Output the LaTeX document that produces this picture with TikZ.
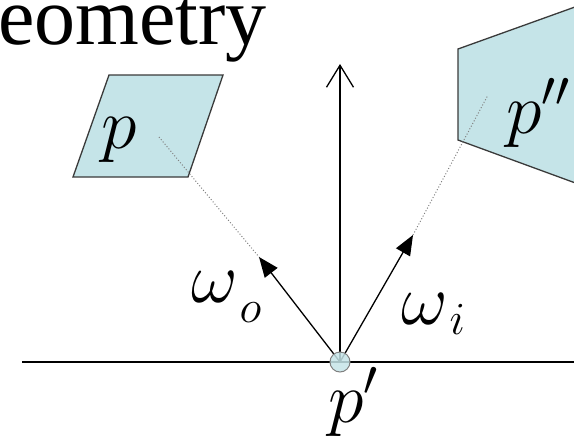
\RequirePackage{fix-cm}
\documentclass[tikz,border=0pt]{standalone}
\usepackage{fontspec}
\setmainfont{Liberation Serif}
\usetikzlibrary{arrows.meta}
\definecolor{panel}{HTML}{C5E4E8}
\definecolor{edgegray}{HTML}{3A3A3A}
\definecolor{dotgray}{HTML}{808080}
\begin{document}
\begin{tikzpicture}[x=1pt,y=-1pt,
  panelshape/.style={fill=panel,draw=edgegray,line width=1.3pt,line join=miter},
  ray/.style={line width=1.3pt,-{Triangle[length=20pt,width=16pt]}},
  normalray/.style={line width=1.3pt,-{Straight Barb[length=22pt,width=27pt,line width=1.3pt]}},
  sightline/.style={dotgray,dotted,line width=1pt},
  biglabel/.style={font=\fontsize{72}{72}\selectfont,inner sep=0pt,anchor=base west}]
\useasboundingbox (0,0) rectangle (574,440);
\clip (0,0) rectangle (574,440);
% title
\node[font=\fontsize{82}{82}\selectfont,inner sep=0pt,anchor=base west] (title) at (-2,44) {eometry};
% surfaces
\draw[panelshape] (109,75) -- (223,75) -- (188,177) -- (73,177) -- cycle;
\draw[panelshape] (600,-2) -- (458,49) -- (458,140) -- (600,192) -- cycle;
% coordinates
\coordinate (gl) at (22,362);
\coordinate (gr) at (574,362);
\coordinate (tipo) at (259,257);
\coordinate (tipi) at (413,235);
\coordinate (srco) at (159,137);
\coordinate (srci) at (488,95);
\coordinate (up) at (340,64);
\coordinate (ppc) at (340,362);
% ground
\draw[line width=1.3pt] (gl) -- (gr);
% sight lines
\draw[sightline] (srco) -- (tipo);
\draw[sightline] (tipi) -- (srci);
% rays
\draw[normalray] (ppc) -- (up);
\draw[ray] (ppc) -- (tipo);
\draw[ray] (ppc) -- (tipi);
\node[circle,draw=dotgray,fill=panel,fill opacity=0.85,line width=1pt,minimum size=20pt,inner sep=0pt] (pp) at (ppc) {};
% labels
\node[biglabel] (lp) at (101,148) {$p$};
\node[biglabel] (lpp) at (506,133) {$p''$};
\node[biglabel] (lpprime) at (328,422) {$p'$};
\node[biglabel] (wo) at (191,302) {$\omega$\kern2pt\raisebox{-20pt}{\fontsize{46}{46}\selectfont$o$}};
\node[biglabel] (wi) at (401,324) {$\omega$\kern2pt\raisebox{-10pt}{\fontsize{46}{46}\selectfont$i$}};
\end{tikzpicture}
\end{document}
